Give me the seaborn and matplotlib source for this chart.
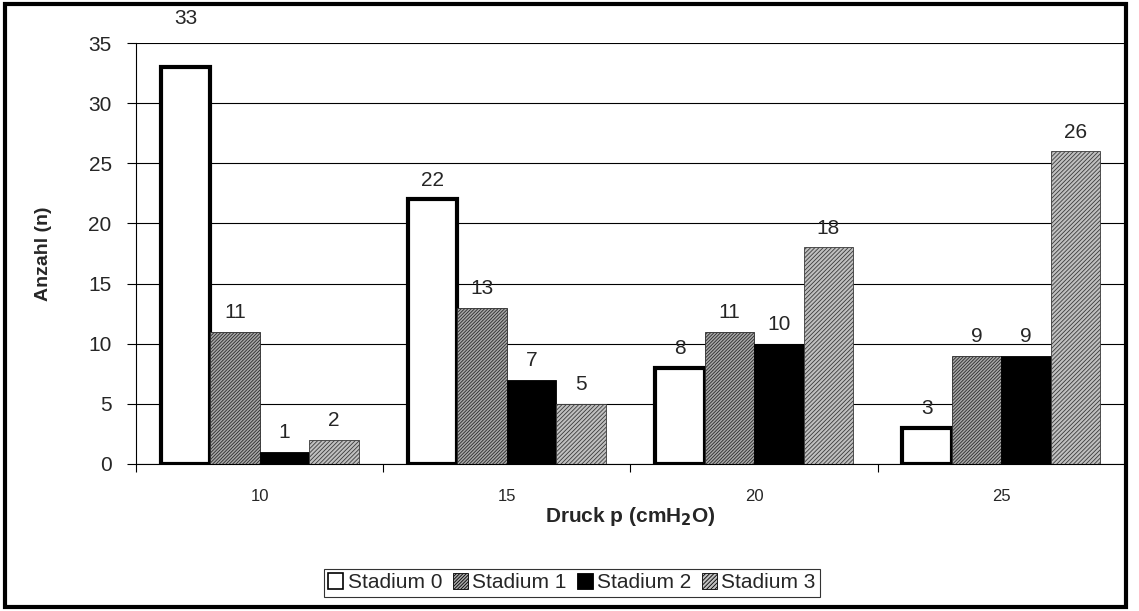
import pandas as pd
import matplotlib.pyplot as plt
import seaborn as sns
from matplotlib.patches import Rectangle

# Daten
druck = ['10', '15', '20', '25']
stadien = ['Stadium 0', 'Stadium 1', 'Stadium 2', 'Stadium 3']
stadium0 = [33, 22, 8, 3]
stadium1 = [11, 13, 11, 9]
stadium2 = [1, 7, 10, 9]
stadium3 = [2, 5, 18, 26]

werte = [stadium0, stadium1, stadium2, stadium3]
df = pd.DataFrame({
    'Druck': druck * 4,
    'Stadium': [s for s in stadien for _ in druck],
    'Anzahl': [v for serie in werte for v in serie],
})

sns.set_style('white')
plt.rcParams['font.family'] = ['Liberation Sans', 'DejaVu Sans']
plt.rcParams['hatch.linewidth'] = 0.6

fig = plt.figure(figsize=(11.39, 6.11), dpi=100)
ax = fig.add_axes([0.1194, 0.2406, 0.8683, 0.689])

sns.barplot(data=df, x='Druck', y='Anzahl', hue='Stadium', order=druck,
            hue_order=stadien, width=0.8, ax=ax, legend=True)

faces = ['white', '#a8a8a8', 'black', '#c0c0c0']
hatch_cols = ['black', '#2a2a2a', 'black', '#3a3a3a']
hatches = [None, '//////////', None, '////////']


def style(patch, i):
    patch.set_facecolor(faces[i])
    patch.set_edgecolor(hatch_cols[i])
    patch.set_hatch(hatches[i])


for i, cont in enumerate(ax.containers):
    for bar in cont:
        style(bar, i)
        bar.set_linewidth(3 if i == 0 else 0.6)
        h = bar.get_height()
        # Excel schiebt Beschriftungen nahe der Achsenobergrenze nach oben
        off = 28 if h > 31 else 7
        ax.annotate(f'{h:.0f}', (bar.get_x() + bar.get_width() / 2, h),
                    xytext=(0, off), textcoords='offset points',
                    ha='center', va='bottom', fontsize=15, annotation_clip=False)

ax.set_ylim(0, 35)
ax.set_yticks(range(0, 36, 5))
ax.yaxis.grid(True, color='black', linewidth=0.8)
ax.set_axisbelow(True)
ax.tick_params(axis='y', labelsize=15, length=6.5, color='black', left=True, width=0.8, pad=11)
ax.tick_params(axis='x', labelsize=12, length=0, pad=18)
ax.set_xticks([-0.5, 0.5, 1.5, 2.5, 3.5], minor=True)
ax.tick_params(axis='x', which='minor', length=6, bottom=True, color='black', width=0.8)
ax.set_xlim(-0.5, 3.5)
for s in ['top', 'right']:
    ax.spines[s].set_visible(False)
for s in ['left', 'bottom']:
    ax.spines[s].set_color('black')
    ax.spines[s].set_linewidth(0.8)

ax.set_xlabel('Druck p (cmH$_\\mathbf{2}$O)', fontsize=15, fontweight='bold', labelpad=1)
ax.set_ylabel('Anzahl (n)', fontsize=14, fontweight='bold', labelpad=26)

handles, labels = ax.get_legend_handles_labels()
ax.legend_.remove()
leg = fig.legend(handles, labels, loc='center', bbox_to_anchor=(0.502, 0.046),
                 ncol=4, frameon=True, fancybox=False, edgecolor='black',
                 fontsize=15, handlelength=0.75, handleheight=0.75,
                 handletextpad=0.2, columnspacing=0.5, borderpad=0.2)
leg.get_frame().set_linewidth(0.8)
for i, h in enumerate(leg.legend_handles):
    style(h, i)
    h.set_edgecolor('black')
    h.set_linewidth(1.2 if i == 0 else 0.6)

fig.patches.append(Rectangle((0.004, 0.006), 0.985, 0.988, transform=fig.transFigure,
                             fill=False, edgecolor='black', linewidth=3))

fig.savefig('out.png', dpi=100)
